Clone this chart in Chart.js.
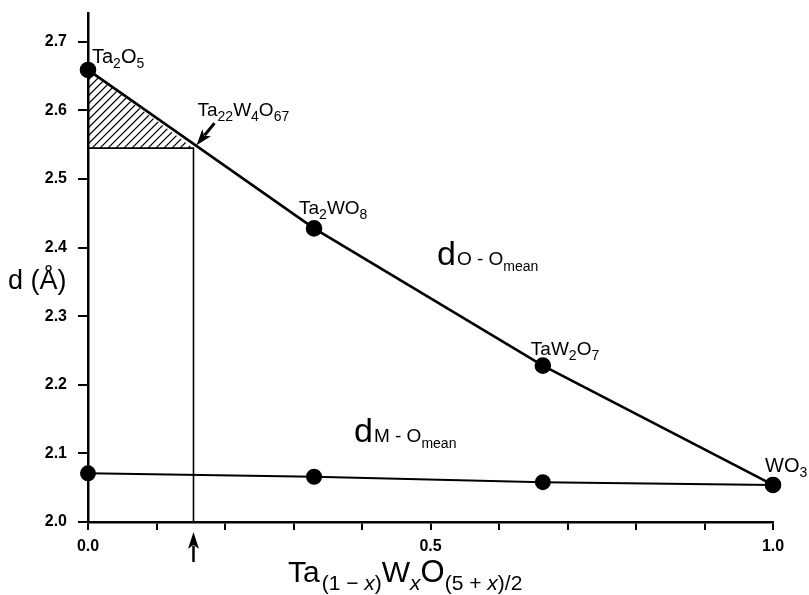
<!DOCTYPE html>
<html>
<head>
<meta charset="utf-8">
<script src="https://cdn.jsdelivr.net/npm/chart.js@4.4.0/dist/chart.umd.min.js"></script>
<style>
  body { margin: 0; background: #fff; }
  canvas { display: block; }
</style>
</head>
<body>
<canvas id="chart" width="809" height="595"></canvas>
<script>
// composition x and mean distances (Å)
const xComp = [0, 0.33, 0.664, 1.0];
const dOO = [2.659, 2.428, 2.228, 2.054];
const dMO = [2.071, 2.066, 2.058, 2.054];
const phases = [
  [["Ta", 20, 0], ["2", 14, 5], ["O", 20, 0], ["5", 14, 5]],
  [["Ta", 19, 0], ["2", 14, 5], ["WO", 19, 0], ["8", 14, 5]],
  [["TaW", 19, 0], ["2", 14, 5], ["O", 19, 0], ["7", 14, 5]],
  [["WO", 20, 0], ["3", 14, 5]]
];
const labelOffsets = [[4, -7], [-15, -14], [-12, -11], [-8, -13]];
// Ta22W4O67 cut point
const guideX = [0, 0.154, 0.154];
const guideY = [2.545, 2.545, 2.0];

const FONT = '"Liberation Sans", Arial, Helvetica, sans-serif';

function pts(xs, ys) { return xs.map((x, i) => ({x: x, y: ys[i]})); }

function drawRich(ctx, x, y, segs) {
  ctx.textBaseline = 'alphabetic';
  ctx.textAlign = 'left';
  for (const s of segs) {
    ctx.font = (s[3] ? 'italic ' : '') + s[1] + 'px ' + FONT;
    ctx.fillText(s[0], x, y + s[2]);
    x += ctx.measureText(s[0]).width + (s[4] || 0);
  }
}

function arrow(ctx, x0, y0, x1, y1, head, w, lw) {
  const a = Math.atan2(y1 - y0, x1 - x0);
  const c = Math.cos(a), s = Math.sin(a);
  ctx.beginPath();
  ctx.moveTo(x0, y0);
  ctx.lineTo(x1 - c * head * 0.8, y1 - s * head * 0.8);
  ctx.lineWidth = lw;
  ctx.stroke();
  ctx.beginPath();
  ctx.moveTo(x1, y1);
  ctx.lineTo(x1 - c * head + s * w, y1 - s * head - c * w);
  ctx.lineTo(x1 - c * head * 0.75, y1 - s * head * 0.75);
  ctx.lineTo(x1 - c * head - s * w, y1 - s * head + c * w);
  ctx.closePath();
  ctx.fill();
}

const extras = {
  id: 'extras',
  beforeDatasetsDraw(chart) {
    const ctx = chart.ctx, xs = chart.scales.x, ys = chart.scales.y;
    const x0 = xs.getPixelForValue(0), xc = xs.getPixelForValue(guideX[1]);
    const yt = ys.getPixelForValue(dOO[0]), yc = ys.getPixelForValue(guideY[0]);
    ctx.save();
    ctx.beginPath();
    ctx.moveTo(x0, yt);
    ctx.lineTo(x0, yc);
    ctx.lineTo(xc, yc);
    ctx.closePath();
    ctx.clip();
    ctx.strokeStyle = '#000';
    ctx.lineWidth = 1.3;
    for (let k = -100; k < 200; k += 8) {
      ctx.beginPath();
      ctx.moveTo(x0 + k, yc);
      ctx.lineTo(x0 + k + 120, yc - 120);
      ctx.stroke();
    }
    ctx.restore();
  },
  afterDatasetsDraw(chart) {
    const ctx = chart.ctx, xs = chart.scales.x, ys = chart.scales.y;
    ctx.save();
    ctx.fillStyle = '#000';
    ctx.strokeStyle = '#000';
    // phase labels
    phases.forEach((segs, i) => {
      const px = xs.getPixelForValue(xComp[i]) + labelOffsets[i][0];
      const py = ys.getPixelForValue(dOO[i]) + labelOffsets[i][1];
      drawRich(ctx, px, py, segs);
    });
    const cx = xs.getPixelForValue(guideX[1]), cy = ys.getPixelForValue(guideY[0]);
    drawRich(ctx, cx + 4, cy - 32, [["Ta", 19, 0], ["22", 14, 5], ["W", 19, 0], ["4", 14, 5], ["O", 19, 0], ["67", 14, 5]]);
    arrow(ctx, cx + 21, cy - 25, cx + 3, cy - 3, 16, 5.5, 3);
    // arrow under the x axis
    arrow(ctx, cx, ys.bottom + 40, cx, ys.bottom + 10, 17, 5.5, 2.5);
    // big distance labels
    drawRich(ctx, 437, 265, [["d", 34, 0, false, 1], ["O - O", 19, 0], ["mean", 14, 6]]);
    drawRich(ctx, 354, 442, [["d", 34, 0, false, 1], ["M - O", 19, 0], ["mean", 14, 6]]);
    // axis titles
    ctx.font = '27px ' + FONT;
    ctx.textBaseline = 'middle';
    ctx.fillText('d (\u00c5)', 8, 282);
    drawRich(ctx, 288, 582, [
      ["Ta", 30, 0, false, 2], ["(1 \u2212 ", 21, 8], ["x", 21, 8, true], [")", 21, 8],
      ["W", 30, 0], ["x", 21, 8, true], ["O", 31, 0],
      ["(5 + ", 21, 8], ["x", 21, 8, true], [")/2", 21, 8]
    ]);
    ctx.restore();
  }
};

new Chart(document.getElementById('chart'), {
  type: 'scatter',
  data: {
    datasets: [
      {
        data: pts(xComp, dOO),
        showLine: true,
        borderColor: '#000',
        borderWidth: 2.6,
        pointRadius: 7,
        pointBackgroundColor: '#000',
        pointBorderColor: '#000',
        clip: false
      },
      {
        data: pts(xComp, dMO),
        showLine: true,
        borderColor: '#000',
        borderWidth: 2,
        pointRadius: 7,
        pointBackgroundColor: '#000',
        pointBorderColor: '#000',
        clip: false
      },
      {
        data: pts(guideX, guideY),
        showLine: true,
        borderColor: '#000',
        borderWidth: 1.6,
        pointRadius: 0
      }
    ]
  },
  options: {
    responsive: false,
    animation: false,
    layout: { padding: { top: 13, right: 36, left: 0, bottom: 0 } },
    plugins: { legend: { display: false }, tooltip: { enabled: false } },
    scales: {
      x: {
        type: 'linear',
        min: 0,
        max: 1,
        afterFit: s => { s.height = 73; },
        border: { color: '#000', width: 2.5 },
        grid: { drawOnChartArea: false, color: '#000', lineWidth: 2, tickLength: 8 },
        ticks: {
          stepSize: 0.1,
          padding: 7,
          color: '#000',
          font: { family: FONT, size: 16, weight: 'bold' },
          maxRotation: 0,
          autoSkip: false,
          callback: v => (Math.round(v * 10) % 5 === 0 ? v.toFixed(1) : '')
        }
      },
      y: {
        min: 2.0,
        max: 2.742,
        afterFit: s => { s.width = 88; s.paddingTop = 0; s.paddingBottom = 0; },
        border: { color: '#000', width: 2.5 },
        grid: { drawOnChartArea: false, color: '#000', lineWidth: 2, tickLength: 10 },
        ticks: {
          stepSize: 0.1,
          includeBounds: false,
          padding: 11,
          color: '#000',
          font: { family: FONT, size: 16, weight: 'bold' },
          callback: v => v.toFixed(1)
        }
      }
    }
  },
  plugins: [extras]
});
</script>
</body>
</html>
